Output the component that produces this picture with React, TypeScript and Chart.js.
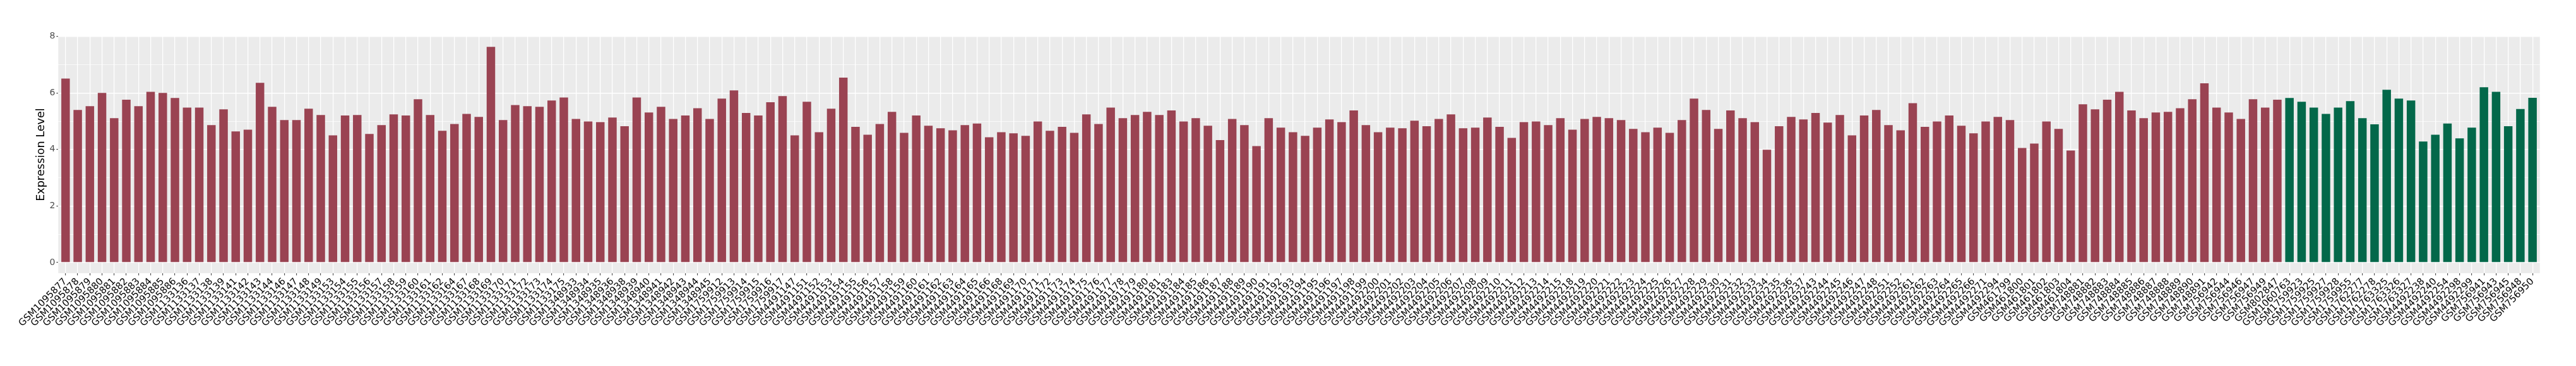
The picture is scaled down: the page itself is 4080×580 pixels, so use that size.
import React, { useEffect, useRef } from 'react';
import { Chart, registerables } from 'chart.js';

Chart.register(...registerables);

// Sample names (x categories), normal group (red) then tumour group (green)
const normalLabels: string[] = [
  'GSM1095877', 'GSM1095878', 'GSM1095879', 'GSM1095880', 'GSM1095881', 'GSM1095882', 'GSM1095883', 'GSM1095884', 'GSM1095885', 'GSM1095886',
  'GSM1133136', 'GSM1133137', 'GSM1133138', 'GSM1133139', 'GSM1133141', 'GSM1133142', 'GSM1133143', 'GSM1133144', 'GSM1133146', 'GSM1133147',
  'GSM1133148', 'GSM1133149', 'GSM1133153', 'GSM1133154', 'GSM1133155', 'GSM1133156', 'GSM1133157', 'GSM1133158', 'GSM1133159', 'GSM1133160',
  'GSM1133161', 'GSM1133162', 'GSM1133164', 'GSM1133167', 'GSM1133168', 'GSM1133169', 'GSM1133170', 'GSM1133171', 'GSM1133172', 'GSM1133173',
  'GSM1133174', 'GSM1133175',
  'GSM1348933', 'GSM1348934', 'GSM1348935', 'GSM1348936', 'GSM1348938', 'GSM1348939', 'GSM1348940', 'GSM1348941', 'GSM1348942', 'GSM1348943',
  'GSM1348944', 'GSM1348945',
  'GSM1759912', 'GSM1759913', 'GSM1759914', 'GSM1759915', 'GSM1759916', 'GSM1759917',
  'GSM4491147', 'GSM4491151', 'GSM4491152', 'GSM4491153', 'GSM4491154', 'GSM4491155', 'GSM4491156', 'GSM4491157', 'GSM4491158', 'GSM4491159',
  'GSM4491160', 'GSM4491161', 'GSM4491162', 'GSM4491163', 'GSM4491164', 'GSM4491165', 'GSM4491166', 'GSM4491168', 'GSM4491169', 'GSM4491170',
  'GSM4491171', 'GSM4491172', 'GSM4491173', 'GSM4491174', 'GSM4491175', 'GSM4491176', 'GSM4491177', 'GSM4491178', 'GSM4491179', 'GSM4491180',
  'GSM4491181', 'GSM4491183', 'GSM4491184', 'GSM4491185', 'GSM4491186', 'GSM4491187', 'GSM4491188', 'GSM4491189', 'GSM4491190', 'GSM4491191',
  'GSM4491192', 'GSM4491193', 'GSM4491194', 'GSM4491195', 'GSM4491196', 'GSM4491197', 'GSM4491198', 'GSM4491199', 'GSM4492200', 'GSM4492201',
  'GSM4492202', 'GSM4492203', 'GSM4492204', 'GSM4492205', 'GSM4492206', 'GSM4492207', 'GSM4492208', 'GSM4492209', 'GSM4492210', 'GSM4492211',
  'GSM4492212', 'GSM4492213', 'GSM4492214', 'GSM4492215', 'GSM4492218', 'GSM4492219', 'GSM4492220', 'GSM4492221', 'GSM4492222', 'GSM4492223',
  'GSM4492224', 'GSM4492225', 'GSM4492226', 'GSM4492227', 'GSM4492228', 'GSM4492229', 'GSM4492230', 'GSM4492231', 'GSM4492232', 'GSM4492233',
  'GSM4492234', 'GSM4492235', 'GSM4492236', 'GSM4492237', 'GSM4492243', 'GSM4492244', 'GSM4492245', 'GSM4492246', 'GSM4492247', 'GSM4492248',
  'GSM4492251', 'GSM4492252', 'GSM4492261', 'GSM4492262', 'GSM4492263', 'GSM4492264', 'GSM4492265', 'GSM4492266', 'GSM4492271', 'GSM4492294',
  'GSM461799', 'GSM461800', 'GSM461801', 'GSM461802', 'GSM461803', 'GSM461804',
  'GSM748881', 'GSM748882', 'GSM748883', 'GSM748884', 'GSM748885', 'GSM748886', 'GSM748887', 'GSM748888', 'GSM748889', 'GSM748890',
  'GSM748891',
  'GSM756942', 'GSM756944', 'GSM756946', 'GSM756947', 'GSM756949',
  'GSM802847',
];

const tumorLabels: string[] = [
  'GSM1060763', 'GSM1759923', 'GSM1759925', 'GSM1759927', 'GSM1759928', 'GSM1759955', 'GSM1762277', 'GSM1762278', 'GSM1763325', 'GSM1763326',
  'GSM1763327', 'GSM4492238', 'GSM4492240', 'GSM4492254', 'GSM4492298', 'GSM4492299', 'GSM756941', 'GSM756943', 'GSM756945', 'GSM756948',
  'GSM756950',
];

const normalValues: number[] = [
  6.51, 5.40, 5.53, 6.00, 5.11, 5.76, 5.53, 6.04, 6.00, 5.82,
  5.48, 5.48, 4.86, 5.42, 4.64, 4.70, 6.36, 5.51, 5.04, 5.04,
  5.44, 5.22, 4.50, 5.20, 5.22, 4.55, 4.86, 5.24, 5.20, 5.78,
  5.22, 4.66, 4.90, 5.26, 5.15, 7.63, 5.04, 5.57, 5.53, 5.51,
  5.73, 5.84,
  5.08, 4.99, 4.97, 5.13, 4.82, 5.84, 5.31, 5.51, 5.08, 5.20,
  5.46, 5.08,
  5.80, 6.09, 5.29, 5.20, 5.67, 5.89,
  4.50, 5.69, 4.61, 5.44, 6.54, 4.80, 4.52, 4.90, 5.33, 4.59,
  5.20, 4.84, 4.75, 4.68, 4.86, 4.92, 4.43, 4.61, 4.57, 4.48,
  4.99, 4.66, 4.80, 4.59, 5.24, 4.90, 5.48, 5.11, 5.22, 5.33,
  5.22, 5.38, 4.99, 5.11, 4.84, 4.33, 5.08, 4.86, 4.12, 5.11,
  4.77, 4.61, 4.48, 4.77, 5.06, 4.97, 5.38, 4.86, 4.61, 4.77,
  4.75, 5.02, 4.82, 5.08, 5.24, 4.75, 4.77, 5.13, 4.80, 4.41,
  4.97, 4.99, 4.86, 5.11, 4.70, 5.08, 5.15, 5.11, 5.04, 4.73,
  4.61, 4.77, 4.59, 5.04, 5.80, 5.40, 4.73, 5.38, 5.11, 4.97,
  3.99, 4.82, 5.15, 5.06, 5.29, 4.95, 5.22, 4.50, 5.20, 5.40,
  4.86, 4.68, 5.64, 4.80, 4.99, 5.20, 4.84, 4.57, 4.99, 5.15,
  5.04, 4.05, 4.21, 4.99, 4.73, 3.96,
  5.60, 5.42, 5.76, 6.04, 5.38, 5.11, 5.31, 5.33, 5.46, 5.78,
  6.34,
  5.48, 5.31, 5.08, 5.78, 5.48,
  5.76,
];

const tumorValues: number[] = [
  5.82, 5.69, 5.48, 5.26, 5.48, 5.71, 5.11, 4.89, 6.11, 5.80,
  5.73, 4.28, 4.52, 4.92, 4.39, 4.77, 6.20, 6.04, 4.82, 5.43,
  5.83,
];

const yTickValues: number[] = [0, 1, 2, 3, 4, 5, 6, 7, 8];
const yLabelledTicks: number[] = [0, 2, 4, 6, 8];
const yTitle = 'Expression Level';

const NORMAL_COLOR = '#9A4352';
const TUMOR_COLOR = '#03684A';
const PANEL_BG = '#EBEBEB';
const FONT = "'DejaVu Sans', sans-serif";

export default function App() {
  const canvasRef = useRef<HTMLCanvasElement | null>(null);

  useEffect(() => {
    const canvas = canvasRef.current;
    if (!canvas) return;
    const labels = [...normalLabels, ...tumorLabels];
    const values = [...normalValues, ...tumorValues];
    const colors = labels.map((_, i) => (i < normalLabels.length ? NORMAL_COLOR : TUMOR_COLOR));
    const n = labels.length;

    const panelPlugin = {
      id: 'panelBg',
      beforeDraw(chart: any) {
        const { ctx, chartArea } = chart;
        ctx.save();
        ctx.fillStyle = PANEL_BG;
        ctx.fillRect(chartArea.left, chartArea.top, chartArea.right - chartArea.left, chartArea.bottom - chartArea.top);
        ctx.restore();
      },
    };

    const chart = new Chart(canvas, {
      type: 'bar',
      data: {
        datasets: [
          {
            label: 'Expression',
            data: values.map((v, i) => ({ x: i, y: v })),
            backgroundColor: colors,
            borderWidth: 0,
            barPercentage: 0.7,
            categoryPercentage: 1,
          },
        ],
      },
      options: {
        responsive: false,
        animation: false,
        devicePixelRatio: 1,
        layout: { padding: { top: 57.3, right: 57.3, left: 0, bottom: 0 } },
        plugins: { legend: { display: false }, tooltip: { enabled: false } },
        scales: {
          x: {
            type: 'linear',
            min: -0.6,
            max: n - 0.4,
            offset: false,
            afterBuildTicks: (scale: any) => {
              scale.ticks = labels.map((_, i) => ({ value: i }));
            },
            afterFit: (scale: any) => {
              scale.height = 147.1;
            },
            grid: {
              color: '#FFFFFF',
              lineWidth: 1.3,
              drawTicks: true,
              tickLength: 3.5,
              tickColor: '#333333',
              tickWidth: 1,
              offset: false,
            },
            border: { display: false },
            ticks: {
              autoSkip: false,
              maxRotation: 45,
              minRotation: 45,
              padding: 1,
              color: '#000000',
              font: { family: FONT, size: 15 },
              callback: (v: any) => labels[v as number] ?? '',
            },
          },
          y: {
            type: 'linear',
            min: -0.38,
            max: 8.01,
            afterBuildTicks: (scale: any) => {
              scale.ticks = yTickValues.map((v) => ({ value: v }));
            },
            afterFit: (scale: any) => {
              scale.width = 92.3;
            },
            grid: {
              color: '#FFFFFF',
              lineWidth: (c: any) => (yLabelledTicks.includes(c.tick?.value) ? 1.4 : 0.7),
              tickLength: 3,
              tickWidth: 1,
              tickColor: (c: any) => (yLabelledTicks.includes(c.tick?.value) ? '#333333' : 'rgba(0,0,0,0)'),
            },
            border: { display: false },
            ticks: {
              padding: 2,
              color: '#4D4D4D',
              font: { family: FONT, size: 14 },
              callback: (v: any) => (yLabelledTicks.includes(v as number) ? String(v) : ''),
            },
            title: {
              display: true,
              text: yTitle,
              color: '#000000',
              font: { family: FONT, size: 17.6 },
              padding: { top: 54.4, bottom: 0 },
            },
          },
        },
      },
      plugins: [panelPlugin],
    } as any);

    return () => chart.destroy();
  }, []);

  return (
    <div style={{ position: 'absolute', left: 0, top: 0, width: 4080, height: 580, background: '#FFFFFF' }}>
      <canvas ref={canvasRef} width={4080} height={580} style={{ display: 'block' }} />
    </div>
  );
}
